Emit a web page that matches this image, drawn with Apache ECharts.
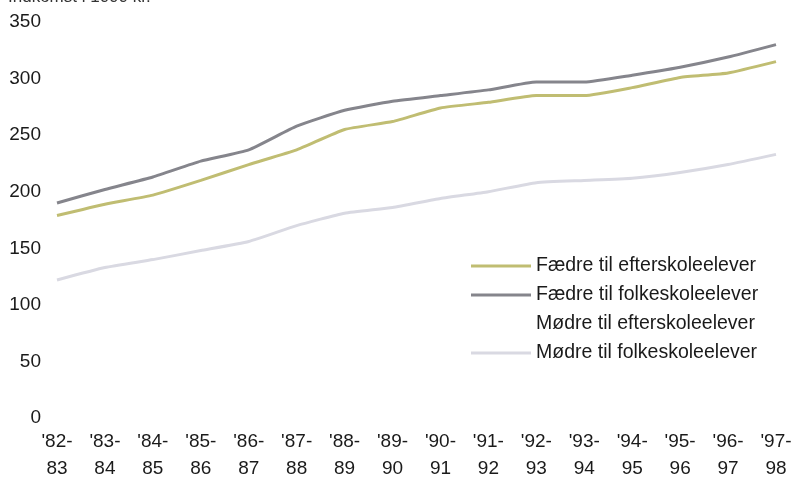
<!DOCTYPE html>
<html><head><meta charset="utf-8">
<script src="https://cdn.jsdelivr.net/npm/echarts@6/dist/echarts.min.js"></script>
<style>html,body{margin:0;padding:0;background:#fff}#c{width:795px;height:486px}</style>
</head><body><div id="c"></div>
<script>
const categories = ["'82-\n83","'83-\n84","'84-\n85","'85-\n86","'86-\n87","'87-\n88","'88-\n89","'89-\n90","'90-\n91","'91-\n92","'92-\n93","'93-\n94","'94-\n95","'95-\n96","'96-\n97","'97-\n98"];
const faedreEfter = [179,189,197,210,224,237,255,262,274,279,285,285,292,301,305,315];
const faedreFolke = [190,202,213,227,237,258,272,280,285,290,297,297,303,310,319,330];
const moedreEfter = [];
const moedreFolke = [122,133,140,148,156,170,181,186,194,200,208,210,212,217,224,233];
const seriesNames = ["Fædre til efterskoleelever","Fædre til folkeskoleelever","Mødre til efterskoleelever","Mødre til folkeskoleelever"];
const yTicks = [0,50,100,150,200,250,300,350];

const chart = echarts.init(document.getElementById('c'));
const font = 'Liberation Sans, Arial, sans-serif';
function ln(name, data, color){
  return {name, type:'line', data, symbol:'none', smooth:0.15, color, lineStyle:{width:3,color}};
}
chart.setOption({
  animation:false,
  textStyle:{fontFamily:font},
  graphic:[{type:'text', x:8, y:-11, style:{text:'Indkomst i 1000 kr.', fontSize:17, fill:'#333', fontFamily:font}}],
  grid:{left:57, right:19, top:22, bottom:68},
  legend:{orient:'vertical', left:466, top:250, itemWidth:60, itemHeight:3, itemGap:7, icon:'rect',
    textStyle:{fontSize:19.5, color:'#1a1a1a', lineHeight:22, fontFamily:font},
    data:seriesNames},
  xAxis:{type:'category', data:categories, boundaryGap:false,
    axisLine:{show:false}, axisTick:{show:false},
    axisLabel:{fontSize:19, color:'#1a1a1a', lineHeight:27, margin:10, interval:0}},
  yAxis:{type:'value', min:yTicks[0], max:yTicks[yTicks.length-1], interval:50,
    axisLine:{show:false}, axisTick:{show:false}, splitLine:{show:false},
    axisLabel:{fontSize:19, color:'#1a1a1a', margin:16}},
  series:[
    ln(seriesNames[0], faedreEfter, '#c0bd72'),
    ln(seriesNames[1], faedreFolke, '#85858c'),
    ln(seriesNames[2], moedreEfter, '#ffffff'),
    ln(seriesNames[3], moedreFolke, '#d9d9e2')
  ]
});
</script></body></html>
